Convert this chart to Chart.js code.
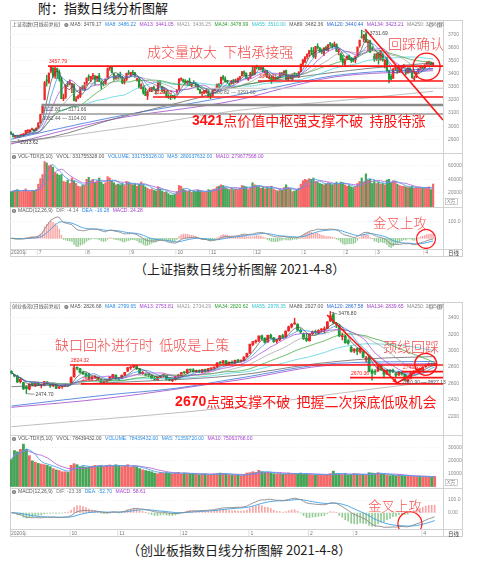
<!DOCTYPE html>
<html>
<head>
<meta charset="utf-8">
<script src="https://cdn.jsdelivr.net/npm/chart.js@4.4.1/dist/chart.umd.min.js"></script>
<style>
html, body { margin: 0; padding: 0; background: #fff; }
body { width: 479px; height: 582px; position: relative; overflow: hidden; font-family: "Noto Sans CJK SC", sans-serif; }
.frame { position: absolute; left: 10px; width: 453px; border: 1px solid #cfcfcf; box-sizing: border-box; }
canvas { position: absolute; left: 10px; }
.cap { position: absolute; font-size: 13px; color: #222; white-space: nowrap; line-height: 16px; }
</style>
</head>
<body>
<div class="cap" style="left:38px;top:0px;color:#111">附：指数日线分析图解</div>

<div class="frame" style="top:20px;height:237px"></div>
<canvas id="p1" width="453" height="132" style="top:21px"></canvas>
<canvas id="v1" width="453" height="54" style="top:153px"></canvas>
<canvas id="m1" width="453" height="49" style="top:207px"></canvas>
<div class="cap" style="left:134px;top:261px">（上证指数日线分析图解 2021-4-8）</div>

<div class="frame" style="top:302px;height:235px"></div>
<canvas id="p2" width="453" height="132" style="top:303px"></canvas>
<canvas id="v2" width="453" height="53" style="top:435px"></canvas>
<canvas id="m2" width="453" height="49" style="top:488px"></canvas>
<div class="cap" style="left:127px;top:542px">（创业板指数日线分析图解 2021-4-8）</div>

<script>
// ---- 上证指数 日线 2020-06-10 ~ 2021-04-08 ----
const shOpen = [2953,2938,2916,2925,2917,2930,2932,2942,2963,2958,2974,2974,2967,
  2991,3026,3096,3205,3349,3333,3418,3443,3381,3439,3411,3360,3209,3222,3325,3321,3295,3316,3197,3216,3227,3301,3286,
  3321,3374,3360,3381,3379,3360,3385,3334,3329,3327,3369,3441,3450,3395,3366,3388,3390,3372,3334,3355,3407,
  3395,3408,3406,3353,3352,3287,3297,3265,3229,3276,3275,3297,3276,3269,3334,3301,3270,3267,3229,3220,3228,3226,
  3262,3276,3359,3355,3345,3330,3345,3311,3331,3321,3313,3277,3253,3253,3259,3265,
  3236,3233,3272,3294,3320,3325,3378,3361,3339,3314,3323,3353,3339,3339,3366,3385,3415,3404,3356,3372,3424,
  3395,3454,3447,3438,3446,3410,3414,3364,3372,3353,3360,3368,3373,3403,3393,3424,3358,3385,3356,3398,3399,3375,3417,
  3474,3492,3530,3552,3577,3576,3528,3609,3597,3570,3555,3602,3580,3628,3618,3614,3622,3568,3552,3514,
  3472,3517,3537,3518,3510,3505,3540,3613,3684,3659,3705,3636,3648,3592,3533,
  3515,3561,3506,3546,3468,3508,3425,3380,3365,3442,3447,3420,3445,3455,3432,3409,3443,3409,3358,3375,3421,3435,3457,
  3445,3471,3481,3483,3468];
const shHigh = [2959,2945,2926,2932,2933,2940,2946,2969,2973,2972,2985,2977,2988,
  3025,3092,3153,3342,3387,3407,3457.79,3447,3446,3443,3428,3375,3244,3315,3341,3354,3327,3322,3226,3239,3294,3309,3334,
  3367,3392,3379,3402,3388,3381,3403,3345,3341,3360,3444,3456,3451,3404,3386,3398,3413,3379,3357,3404,3425,
  3411,3425,3410,3369,3365,3322,3302,3287,3267,3293,3295,3305,3285,3339,3343,3305,3286,3268,3241,3236,3235,3239,
  3280,3362,3367,3359,3355,3345,3366,3330,3347,3332,3318,3280,3262,3271,3283,3276,
  3246,3275,3287,3320,3324,3374,3387,3375,3349,3329,3347,3356,3359,3368,3378,3417,3421,3407,3370,3411,3456,
  3451,3465,3453,3449,3456,3426,3425,3389,3380,3377,3370,3375,3408,3411,3421,3428,3385,3391,3397,3407,3403,3414,3474,
  3511,3528,3550,3576,3599,3600,3608,3628,3598,3590,3597,3611,3621,3639,3630,3642,3628,3588,3554,3539,
  3515,3535,3542,3524,3520,3536,3604,3656,3731.69,3697,3712,3653,3655,3605,3552,
  3552,3563,3577,3552,3508,3526,3428,3396,3442,3472,3449,3448,3457,3470,3433,3444,3444,3418,3381,3418,3440,3458,3458,
  3467,3490,3495,3491,3483];
const shLow = [2937,2917,2915,2913.62,2915,2925,2924,2937,2951,2950,2971,2954,2965,
  2983,3023,3087,3200,3306,3326,3406,3371,3363,3361,3343,3209,3194,3211,3302,3315,3256,3193,3187,3208,3218,3277,3274,
  3311,3346,3337,3358,3317,3340,3340,3284,3308,3318,3369,3425,3406,3349,3356,3358,3365,3323,3321,3347,3395,
  3382,3393,3372,3342,3292,3283,3243,3233,3203,3264,3263,3279,3244,3267,3306,3259,3252,3221,3211,3202,3214,3207,
  3250,3274,3344,3333,3320,3315,3310,3299,3322,3297,3276,3249,3232,3248,3251,3224,
  3209,3228,3268,3293,3293,3321,3350,3336,3326,3305,3320,3320,3333,3332,3355,3381,3383,3362,3348,3364,3386,
  3391,3435,3430,3427,3409,3389,3371,3359,3325,3344,3350,3359,3369,3385,3390,3353,3344,3359,3347,3378,3378,3371,3416,
  3457,3484,3513,3532,3544,3522,3514,3588,3563,3550,3538,3576,3571,3608,3596,3605,3569,3543,3502,3468,
  3457,3507,3506,3485,3490,3482,3536,3602,3670,3641,3637,3571,3562,3576,3494,
  3500,3472,3502,3495,3443,3419,3329,3350,3363,3424,3404,3408,3411,3444,3392,3401,3406,3366,3349,3370,3405,3428,3436,
  3440,3470,3471,3464,3458];
const shClose = [2943,2921,2919,2918,2931,2935,2939,2968,2965,2970,2980,2962,2985,
  3025,3090,3152,3332,3345,3403,3450,3383,3443,3415,3361,3210,3214,3314,3321,3333,3325,3197,3206,3228,3294,3287,3310,
  3367,3371,3377,3386,3354,3379,3340,3320,3320,3360,3438,3451,3408,3364,3381,3385,3373,3330,3350,3403,3396,
  3410,3404,3384,3355,3292,3316,3255,3234,3260,3278,3295,3283,3270,3338,3316,3274,3279,3223,3219,3217,3224,3218,
  3272,3359,3359,3340,3332,3336,3312,3328,3325,3312,3278,3251,3254,3270,3273,3225,
  3225,3272,3277,3320,3312,3373,3360,3342,3338,3310,3346,3339,3347,3363,3378,3414,3402,3362,3369,3408,3392,
  3451,3449,3443,3445,3416,3410,3371,3373,3347,3369,3367,3366,3404,3395,3421,3357,3383,3364,3397,3397,3379,3414,3473,
  3503,3528,3550,3576,3570,3531,3608,3598,3566,3566,3596,3584,3621,3622,3607,3625,3570,3573,3506,3483,
  3505,3533,3518,3501,3496,3532,3603,3655,3675,3696,3642,3636,3564,3585,3509,
  3551,3508,3576,3503,3502,3421,3360,3357,3436,3454,3419,3446,3446,3464,3405,3443,3414,3367,3363,3418,3435,3457,3442,
  3467,3484,3483,3479,3482];
// 成交量（万手）
const shVol = [22000,23000,24000,25000,23000,22000,24000,26000,23000,22000,24000,23000,25000,
  33000,41000,47000,66000,64000,60000,61000,58000,50000,48000,46000,47000,37000,36000,39000,34000,42000,38000,34000,30000,29000,31000,32000,
  40000,43000,38000,40000,36000,38000,42000,36000,33000,35000,44000,42000,38000,35000,32000,33000,32000,34000,31000,37000,36000,
  34000,32000,33000,30000,33000,36000,32000,29000,27000,25000,26000,24000,23000,29000,26000,23000,21000,22000,19000,17000,17000,18000,
  22000,31000,30000,26000,24000,22000,24000,21000,23000,22000,24000,23000,22000,21000,22000,25000,
  24000,25000,26000,29000,30000,32000,31000,28000,26000,25000,27000,25000,26000,25000,27000,31000,30000,29000,25000,28000,35000,
  32000,31000,29000,27000,28000,26000,29000,27000,30000,26000,24000,23000,25000,24000,28000,32000,28000,26000,22000,23000,25000,27000,33000,
  38000,40000,39000,41000,40000,42000,37000,36000,34000,33000,32000,33000,35000,34000,32000,34000,36000,33000,36000,35000,
  32000,30000,31000,29000,28000,30000,34000,37000,42000,36000,48000,39000,40000,34000,38000,
  34000,36000,33000,34000,32000,39000,40000,35000,38000,37000,33000,31000,30000,30000,29000,28000,28000,30000,27000,28000,28000,28000,27000,
  27000,28000,29000,25000,33176];
// 长周期均线读数 [K线序号, 点位]
const shMa89 = [[0,2880],[20,2920],[50,3060],[90,3220],[107,3300],[138,3377],[170,3440],[201,3482]];
const shMa120 = [[0,2900],[46,3060],[107,3235],[130,3310],[154,3385],[201,3440]];
const shMa134 = [[0,2864],[46,3045],[108,3200],[130,3290],[154,3375],[201,3423]];
const shMa250 = [[0,2870],[60,3000],[108,3120],[160,3200],[201,3266]];
const shMonths = [[13,'7'],[36,'8'],[57,'9'],[79,'10'],[95,'11'],[116,'12'],[139,'1'],[159,'2'],[174,'3'],[197,'4']];
const shPriceTicks = [2900,3000,3100,3200,3300,3400,3500,3600,3700];
const shVolTicks = [20000,40000,60000];
const shMacdTicks = [100];

// ---- 创业板指 日线 2020-09-03 ~ 2021-04-08 ----
const cyOpen = [2745,2695,2688,2622,2610,2555,2530,2605,2580,2612,2570,2575,2618,2585,2572,2580,2545,2560,2570,2582,
  2600,2680,2788,2780,2735,2718,2700,2660,2680,2675,2648,2612,2625,2640,2672,2700,
  2660,2662,2705,2750,2790,2800,2822,2775,2722,2710,2705,2700,2665,2645,2678,2700,2695,2652,2635,2648,2690,
  2692,2735,2728,2765,2765,2745,2752,2735,2770,2750,2778,2788,2800,2852,2848,2875,2832,2860,2845,2885,2870,2880,2925,
  2970,3075,3108,3120,3180,3150,3105,3188,3155,3112,3130,3182,3168,3242,3290,3325,3320,3248,3200,3150,
  3120,3205,3235,3218,3250,3255,3270,3360,3440,3330,3310,3170,3180,3120,3040,
  2995,3025,2985,2985,2890,2920,2755,2740,2750,2820,2765,2715,2762,2755,2720,2705,2738,2710,2630,2660,2735,2745,2768,
  2762,2805,2822,2842,2822];
const cyHigh = [2755,2712,2700,2660,2616,2572,2595,2615,2620,2618,2590,2625,2622,2592,2595,2582,2565,2575,2592,2590,
  2680,2824.32,2800,2785,2750,2730,2725,2685,2690,2680,2652,2628,2648,2682,2712,2705,
  2668,2702,2735,2795,2805,2826,2822,2782,2745,2722,2718,2706,2680,2680,2700,2712,2698,2665,2652,2685,2712,
  2735,2742,2775,2770,2780,2762,2765,2772,2775,2785,2790,2800,2855,2870,2880,2880,2862,2875,2885,2895,2888,2925,2970,
  3080,3112,3130,3180,3190,3160,3190,3200,3162,3140,3185,3200,3240,3300,3330,3395,3330,3268,3215,3210,
  3205,3240,3250,3255,3270,3290,3355,3476.8,3460,3345,3315,3215,3190,3135,3055,
  3025,3030,3035,2995,2930,2935,2775,2770,2822,2830,2770,2770,2770,2775,2728,2745,2745,2712,2660,2735,2755,2775,2775,
  2805,2830,2850,2848,2850];
const cyLow = [2715,2680,2612,2605,2525,2474.7,2520,2570,2560,2575,2545,2570,2590,2550,2560,2535,2535,2540,2560,2565,
  2598,2676,2765,2728,2705,2680,2655,2650,2665,2645,2610,2600,2615,2636,2665,2650,
  2635,2655,2695,2745,2770,2790,2768,2715,2710,2690,2680,2655,2640,2640,2670,2680,2640,2630,2620,2640,2670,
  2688,2715,2722,2740,2735,2730,2732,2728,2735,2745,2765,2775,2798,2835,2840,2820,2822,2840,2840,2855,2858,2875,2920,
  2965,3060,3090,3110,3130,3090,3100,3150,3100,3090,3120,3155,3160,3235,3275,3320,3240,3210,3135,3110,
  3115,3195,3200,3205,3225,3220,3265,3355,3330,3280,3170,3130,3090,3075,2980,
  2975,2950,2970,2915,2860,2740,2640,2705,2745,2760,2680,2705,2700,2730,2680,2695,2700,2635,2610.9,2655,2720,2735,2740,
  2755,2795,2810,2815,2815];
const cyClose = [2727,2690,2616,2648,2533,2536,2593,2582,2610,2578,2572,2620,2600,2570,2590,2540,2555,2562,2580,2572,
  2670,2790,2786,2733,2720,2690,2660,2676,2680,2652,2616,2623,2642,2679,2708,2656,
  2653,2700,2733,2793,2791,2820,2780,2721,2733,2700,2702,2663,2650,2674,2697,2700,2650,2638,2645,2679,2690,
  2732,2730,2770,2763,2742,2750,2738,2768,2748,2780,2785,2790,2850,2845,2875,2830,2858,2848,2882,2870,2880,2922,2966,
  3078,3109,3118,3178,3147,3100,3185,3160,3110,3128,3180,3165,3238,3290,3320,3330,3250,3228,3146,3126,
  3200,3230,3220,3245,3250,3262,3350,3425,3340,3320,3180,3175,3095,3090,2990,
  3017,2990,3030,2920,2910,2745,2720,2736,2817,2770,2710,2760,2740,2750,2700,2740,2714,2640,2650,2730,2740,2765,2754,
  2800,2820,2840,2830,2843];
const cyVol = [21000,28000,27000,29000,33000,29000,24000,20000,19000,18000,17500,17000,16500,15500,14000,13000,12500,11500,11500,11000,
  16500,17800,17000,15200,15500,15000,15200,15800,16500,16000,16500,15600,16500,16800,16000,17000,
  16000,15500,16000,17000,15000,16000,15500,14000,13000,12500,12000,11500,10500,10000,11000,10500,10800,10500,10000,10500,11000,
  9800,10500,10000,9500,10000,9800,9200,9500,9800,9200,9500,9800,10000,10500,10200,9500,9200,8800,8800,9000,8500,9000,10500,
  10800,11500,11000,12600,11500,11000,11200,10500,10000,9800,10000,9500,9800,10500,10000,10200,9800,10500,9500,9800,
  9500,9200,9000,9500,9200,8800,9500,10000,12000,9800,9500,9200,10000,8800,9500,
  10000,9500,9200,9500,9000,10800,10500,10000,10800,9800,9500,9000,8500,8800,8500,9000,8800,8000,8200,8000,7800,8000,7800,
  7500,7800,7600,7200,7844];
const cyMa89 = [[0,2560],[40,2620],[76,2700],[100,2830],[120,2900],[142,2927]];
const cyMa120 = [[0,2324],[32,2459],[55,2540],[76,2662],[109,2845],[142,2868]];
const cyMa134 = [[0,2308],[32,2418],[76,2641],[109,2825],[142,2840]];
const cyMa250 = [[0,2072],[76,2316],[110,2480],[142,2626]];
const cyMonths = [[20,'10'],[36,'11'],[57,'12'],[80,'1'],[100,'2'],[115,'3'],[138,'4']];
const cyPriceTicks = [2200,2400,2600,2800,3000,3200,3400];
const cyVolTicks = [10000,20000,30000];
const cyMacdTicks = [0,100];

// ---- 样式 ----
const UP = '#ee2626', DOWN = '#1d9a38';
const VOL_UP = 'rgba(242,78,78,0.85)', VOL_DOWN = 'rgba(38,148,58,0.85)';
const RED = '#ff1414', SOFT_RED = '#f24848';
const SMALL = '5px "Liberation Sans", "Noto Sans CJK SC", sans-serif';
const CJK = '"Noto Sans CJK SC", sans-serif';
const THIN = '300 14px ' + CJK;
const MA_N = [5, 8, 13, 21, 34, 55];
const MA_COL = ['#4a4a4a', '#2c8ce2', '#a23fd0', '#9c9c9c', '#2e9e2e', '#3ccfd6'];
const LONG_COL = ['#5e5e5e', '#2d6bd6', '#9a3fc6', '#a8a8a8'];

function sma(arr, n) {
  return arr.map((_, i) => {
    const s = Math.max(0, i - n + 1);
    let sum = 0;
    for (let j = s; j <= i; j++) sum += arr[j];
    return sum / (i - s + 1);
  });
}
function ema(arr, n) {
  const k = 2 / (n + 1), out = [];
  arr.forEach((v, i) => out.push(i ? out[i - 1] + k * (v - out[i - 1]) : v));
  return out;
}
const pts = arr => arr.map((y, i) => ({ x: i, y }));
const line = (data, color, w) => ({ type: 'line', data, borderColor: color, borderWidth: w, pointRadius: 0, fill: false, tension: 0, order: 0 });
const curve = (pairs, color, w) => Object.assign(line(pairs.map(p => ({ x: p[0], y: p[1] })), color, w), { cubicInterpolationMode: 'monotone' });

function drawHeader(ctx, head, y) {
  ctx.font = SMALL; ctx.textBaseline = 'middle'; ctx.textAlign = 'left';
  let x = 2;
  if (head.name) {
    ctx.fillStyle = '#555'; ctx.fillText(head.name, x, y);
    x += ctx.measureText(head.name).width + 4;
  }
  ctx.fillStyle = '#777'; ctx.beginPath(); ctx.arc(x + 2, y, 2.1, 0, Math.PI * 2); ctx.fill();
  ctx.fillStyle = '#fff'; ctx.fillRect(x + 1, y - 0.3, 2, 0.6);
  x += 6;
  head.segs.forEach(s => {
    ctx.fillStyle = s[1]; ctx.fillText(s[0], x, y);
    x += ctx.measureText(s[0]).width + 3.5;
  });
  if (head.icons) {
    ctx.strokeStyle = '#888'; ctx.lineWidth = 0.7;
    ctx.beginPath(); ctx.arc(421, y, 2, 0, Math.PI * 2); ctx.stroke();
    ctx.strokeRect(427.5, y - 2, 4, 4);
    ctx.beginPath(); ctx.moveTo(429.5, y - 2); ctx.lineTo(429.5, y + 2); ctx.stroke();
  }
}

function arrowHead(ctx, x1, y1, x2, y2, size) {
  const a = Math.atan2(y2 - y1, x2 - x1);
  ctx.beginPath();
  ctx.moveTo(x2, y2);
  ctx.lineTo(x2 - size * Math.cos(a - 0.45), y2 - size * Math.sin(a - 0.45));
  ctx.lineTo(x2 - size * Math.cos(a + 0.45), y2 - size * Math.sin(a + 0.45));
  ctx.closePath(); ctx.fill();
}

function drawAnnot(ctx, ca, X, Y, an) {
  ctx.save();
  ctx.beginPath(); ctx.rect(ca.left, ca.top, ca.right - ca.left, ca.bottom - ca.top); ctx.clip();
  (an.hlines || []).forEach(h => {
    ctx.strokeStyle = h.color; ctx.lineWidth = h.w;
    ctx.beginPath(); ctx.moveTo(X(h.from), Y(h.v)); ctx.lineTo(ca.right, Y(h.v)); ctx.stroke();
  });
  (an.segs || []).forEach(s => {
    ctx.strokeStyle = s.color; ctx.fillStyle = s.color; ctx.lineWidth = s.w;
    const x1 = X(s.x1), y1 = Y(s.v1), x2 = X(s.x2), y2 = Y(s.v2);
    ctx.beginPath(); ctx.moveTo(x1, y1); ctx.lineTo(x2, y2); ctx.stroke();
    if (s.arrow) arrowHead(ctx, x1, y1, x2, y2, 5);
  });
  (an.circles || []).forEach(c => {
    ctx.strokeStyle = c.color; ctx.lineWidth = c.w;
    ctx.beginPath(); ctx.arc(X(c.x), Y(c.v), c.r, 0, Math.PI * 2); ctx.stroke();
  });
  ctx.restore();
  ctx.save();
  ctx.textAlign = 'left';
  (an.hlines || []).forEach(h => {
    if (!h.label) return;
    ctx.font = SMALL; ctx.fillStyle = h.lc;
    if (h.pos === 'below') { ctx.textBaseline = 'top'; ctx.fillText(h.label, X(h.from) + 1, Y(h.v) + 2); }
    else { ctx.textBaseline = 'bottom'; ctx.fillText(h.label, X(h.from) + 1, Y(h.v) - 1.5); }
  });
  (an.marks || []).forEach(m => {
    const px = X(m.x), py = Y(m.v);
    ctx.strokeStyle = m.color; ctx.lineWidth = 0.6;
    ctx.beginPath(); ctx.moveTo(px + 1, py + m.ty * 0.3); ctx.lineTo(px + m.tx - 1, py + m.ty); ctx.stroke();
    ctx.font = SMALL; ctx.fillStyle = m.color; ctx.textBaseline = 'middle';
    ctx.fillText(m.text, px + m.tx, py + m.ty);
  });
  (an.texts || []).forEach(t => {
    let x = X(t.x);
    ctx.textBaseline = 'middle';
    t.parts.forEach(p => {
      ctx.font = p[1]; ctx.fillStyle = p[2];
      ctx.fillText(p[0], x, Y(t.v));
      x += ctx.measureText(p[0]).width;
    });
  });
  ctx.restore();
}

function panelPlugin(p) {
  return {
    id: 'panel_' + p.key,
    afterDraw(chart) {
      const ctx = chart.ctx, ca = chart.chartArea;
      const X = v => chart.scales.x.getPixelForValue(v);
      const Y = v => chart.scales.y.getPixelForValue(v);
      const W = chart.width, H = chart.height;
      ctx.save();
      ctx.strokeStyle = '#d2d2d2'; ctx.lineWidth = 1;
      ctx.beginPath();
      ctx.moveTo(ca.right + 0.5, 0); ctx.lineTo(ca.right + 0.5, H);
      if (p.topLine) { ctx.moveTo(0, 0.5); ctx.lineTo(W, 0.5); }
      if (p.months) { ctx.moveTo(0, ca.bottom + 0.5); ctx.lineTo(W, ca.bottom + 0.5); }
      ctx.stroke();
      ctx.font = SMALL; ctx.fillStyle = '#8a8a8a'; ctx.textBaseline = 'middle'; ctx.textAlign = 'left';
      p.ticks.forEach(v => ctx.fillText(p.fmt(v), ca.right + 5, Y(v)));
      drawHeader(ctx, p.head, 4);
      if (p.unit) {
        ctx.strokeStyle = '#aaa'; ctx.lineWidth = 0.6;
        ctx.strokeRect(ca.right + 2.5, H - 8.5, 12, 6);
        ctx.fillStyle = '#888'; ctx.fillText('X万', ca.right + 4, H - 5.5);
      }
      if (p.months) {
        const my = ca.bottom + (H - ca.bottom) / 2 + 0.5;
        ctx.fillStyle = '#777';
        ctx.fillText('2020年', ca.left + 1, my);
        ctx.strokeStyle = '#c8c8c8'; ctx.lineWidth = 0.6;
        p.months.forEach(m => {
          const x = X(m[0]) - 1;
          ctx.beginPath(); ctx.moveTo(x, ca.bottom + 1); ctx.lineTo(x, H - 1); ctx.stroke();
          ctx.fillText(m[1], x + 1.5, my);
        });
        ctx.font = '5.5px ' + CJK; ctx.fillStyle = '#444';
        ctx.fillText('日线', ca.right + 5, my);
      }
      if (p.annot) drawAnnot(ctx, ca, X, Y, p.annot);
      ctx.restore();
    }
  };
}

function yScale(min, max, ticks) {
  return {
    position: 'right', min, max,
    afterFit: s => { s.width = 20; },
    afterBuildTicks: s => { s.ticks = ticks.map(v => ({ value: v })); },
    ticks: { display: false },
    grid: { color: '#ebebeb', drawTicks: false, lineWidth: 0.8 },
    border: { display: false, dash: [1, 2] }
  };
}
function chartOpts(xr, ys, padBottom) {
  return {
    responsive: false, animation: false, events: [],
    layout: { padding: { left: 0, right: 0, top: 0, bottom: padBottom || 0 } },
    plugins: { legend: { display: false }, tooltip: { enabled: false } },
    scales: { x: { type: 'linear', min: xr[0], max: xr[1], display: false, offset: false }, y: ys }
  };
}

function buildSet(ids, d, c) {
  const up = d.close.map((v, i) => v >= d.open[i]);
  const xr = [c.xMin, c.xMax];
  // 价格
  const priceSets = MA_N.map((n, k) => line(pts(sma(d.close, n)), MA_COL[k], 0.7));
  [d.ma89, d.ma120, d.ma134, d.ma250].forEach((m, k) => priceSets.push(curve(m, LONG_COL[k], 0.75)));
  priceSets.push({
    data: d.open.map((o, i) => ({ x: i, y: [o, d.close[i]] })),
    backgroundColor: up.map(u => u ? UP : DOWN),
    barThickness: c.bodyW, minBarLength: 1, grouped: false, order: 1
  });
  priceSets.push({
    data: d.low.map((l, i) => ({ x: i, y: [l, d.high[i]] })),
    backgroundColor: up.map(u => u ? UP : DOWN),
    barThickness: c.wickW, grouped: false, order: 2
  });
  new Chart(document.getElementById(ids[0]), {
    type: 'bar', data: { datasets: priceSets },
    options: chartOpts(xr, yScale(c.price[0], c.price[1], d.priceTicks)),
    plugins: [panelPlugin({ key: ids[0], ticks: d.priceTicks, fmt: v => String(v), head: d.priceHead, annot: c.priceAnnot })]
  });
  // 成交量
  new Chart(document.getElementById(ids[1]), {
    type: 'bar',
    data: { datasets: [
      line(pts(sma(d.vol, 5)), '#4aa3ea', 0.9),
      line(pts(sma(d.vol, 10)), '#b46ad6', 0.9),
      { data: pts(d.vol), backgroundColor: up.map(u => u ? VOL_UP : VOL_DOWN), barThickness: c.volW, grouped: false, order: 1 }
    ] },
    options: chartOpts(xr, yScale(c.vol[0], c.vol[1], d.volTicks)),
    plugins: [panelPlugin({ key: ids[1], ticks: d.volTicks, fmt: v => String(v), head: d.volHead, topLine: true, unit: true })]
  });
  // MACD(12,26,9)
  const e12 = ema(d.close, 12), e26 = ema(d.close, 26);
  const dif = e12.map((v, i) => v - e26[i]);
  const dea = ema(dif, 9);
  const hist = dif.map((v, i) => 2 * (v - dea[i]));
  new Chart(document.getElementById(ids[2]), {
    type: 'bar',
    data: { datasets: [
      line(pts(dif), '#8a8a8a', 0.9),
      line(pts(dea), '#3d9fe8', 0.9),
      { data: pts(hist), backgroundColor: hist.map(h => h >= 0 ? 'rgba(240,90,90,0.55)' : 'rgba(60,160,60,0.55)'), barThickness: c.histW, grouped: false, order: 1 }
    ] },
    options: chartOpts(xr, yScale(c.macd[0], c.macd[1], d.macdTicks), c.stripH),
    plugins: [panelPlugin({ key: ids[2], ticks: d.macdTicks, fmt: v => v === 0 ? '0.00' : v.toFixed(1), head: d.macdHead, topLine: true, months: d.months, annot: c.macdAnnot })]
  });
}

buildSet(['p1', 'v1', 'm1'], {
  open: shOpen, high: shHigh, low: shLow, close: shClose, vol: shVol,
  ma89: shMa89, ma120: shMa120, ma134: shMa134, ma250: shMa250,
  months: shMonths, priceTicks: shPriceTicks, volTicks: shVolTicks, macdTicks: shMacdTicks,
  priceHead: { name: '上证指数(日线前复权)', icons: true, segs: [
    ['MA5: 3479.17', '#555'], ['MA8: 3486.22', '#2c8ce2'], ['MA13: 3441.05', '#a23fd0'], ['MA21: 3436.25', '#999'],
    ['MA34: 3478.99', '#2e9e2e'], ['MA55: 3510.00', '#36c3d3'], ['MA89: 3482.36', '#555'], ['MA120: 3440.44', '#2d6bd6'],
    ['MA134: 3423.21', '#9a3fc6'], ['MA250: 3266.66', '#888']] },
  volHead: { segs: [['VOL-TDX(5,10)', '#555'], ['VVOL: 331755328.00', '#555'], ['VOLUME: 331755328.00', '#2c8ce2'],
    ['MA5: 280037632.00', '#2c8ce2'], ['MA10: 279677568.00', '#a23fd0']] },
  macdHead: { segs: [['MACD(12,26,9)', '#555'], ['DIF: -4.14', '#777'], ['DEA: -16.28', '#2c8ce2'], ['MACD: 24.28', '#a23fd0']] }
}, {
  xMin: -0.48, xMax: 205.7, bodyW: 1.5, wickW: 0.8, volW: 1.5, histW: 0.8, stripH: 7,
  price: [2795.6, 3801.3], vol: [-513, 78597], macd: [-64.5, 188.6],
  priceAnnot: {
    hlines: [
      { v: 3457.79, from: 17.6, color: RED, w: 1.6, label: '3457.79', lc: RED },
      { v: 3344, from: 117.6, color: RED, w: 1.6, label: '3340.01', lc: RED },
      { v: 3289, from: 95, color: '#c6c6c6', w: 1, label: '3280.82 — 3291.60', pos: 'below', lc: '#666' },
      { v: 3222.53, from: 67.6, color: RED, w: 1.6, label: '3222.53', lc: RED },
      { v: 3161, from: 14.5, color: '#8a8a8a', w: 2.6, label: '3122.81 — 3171.66', pos: 'below', lc: '#555' },
      { v: 3093, from: 14.5, color: '#9a9a9a', w: 1.6, label: '3082.44 — 3104.00', pos: 'below', lc: '#555' }
    ],
    segs: [{ x1: 168.6, v1: 3738, x2: 205.7, v2: 3047, color: RED, w: 1.6 }],
    circles: [{ x: 197.9, v: 3453, r: 13.5, color: RED, w: 1.3 }],
    marks: [
      { x: 167, v: 3731.69, text: '3731.69', tx: 8, ty: 3, color: '#444' },
      { x: 3, v: 2913.62, text: '2913.62', tx: 3, ty: 5.5, color: '#444' }
    ],
    texts: [
      { x: 64.8, v: 3567, parts: [['成交量放大  下档承接强', THIN, SOFT_RED]] },
      { x: 179.5, v: 3631, parts: [['回踩确认', THIN, SOFT_RED]] },
      { x: 86.2, v: 3042, parts: [['3421', 'bold 14px "Liberation Sans"', RED], ['点价值中枢强支撑不破  持股待涨', '14px ' + CJK, RED]] }
    ]
  },
  macdAnnot: {
    circles: [{ x: 197.6, v: -4, r: 9.5, color: RED, w: 1.2 }],
    texts: [{ x: 172.4, v: 90, parts: [['金叉上攻', '300 13.5px ' + CJK, '#f55555']] }]
  }
});

buildSet(['p2', 'v2', 'm2'], {
  open: cyOpen, high: cyHigh, low: cyLow, close: cyClose, vol: cyVol,
  ma89: cyMa89, ma120: cyMa120, ma134: cyMa134, ma250: cyMa250,
  months: cyMonths, priceTicks: cyPriceTicks, volTicks: cyVolTicks, macdTicks: cyMacdTicks,
  priceHead: { name: '创业板指(日线前复权)', icons: true, segs: [
    ['MA5: 2826.68', '#555'], ['MA8: 2799.65', '#2c8ce2'], ['MA13: 2753.81', '#a23fd0'], ['MA21: 2734.29', '#999'],
    ['MA34: 2820.62', '#2e9e2e'], ['MA55: 2978.35', '#36c3d3'], ['MA89: 2927.00', '#555'], ['MA120: 2867.58', '#2d6bd6'],
    ['MA134: 2839.65', '#9a3fc6'], ['MA250: 2625.87', '#888']] },
  volHead: { segs: [['VOL-TDX(5,10)', '#555'], ['VVOL: 78439432.00', '#555'], ['VOLUME: 78439432.00', '#2c8ce2'],
    ['MA5: 71359720.00', '#2c8ce2'], ['MA10: 75063768.00', '#a23fd0']] },
  macdHead: { segs: [['MACD(12,26,9)', '#555'], ['DIF: -23.38', '#777'], ['DEA: -52.70', '#2c8ce2'], ['MACD: 58.61', '#a23fd0']] }
}, {
  xMin: -0.5, xMax: 144.8, bodyW: 2.2, wickW: 0.8, volW: 2.2, histW: 1, stripH: 8,
  price: [1970.7, 3580.5], vol: [-1128, 40106], macd: [-128.3, 194.5],
  priceAnnot: {
    hlines: [
      { v: 2824.32, from: 19.6, color: RED, w: 1.6, label: '2824.32', lc: RED },
      { v: 2595, from: 23.3, color: RED, w: 1.8, label: '2593.57', lc: RED },
      { v: 2670.36, from: 113.6, color: RED, w: 1.6, label: '2670.36', lc: RED },
      { v: 2743.92, from: 131, color: RED, w: 1.6, label: '2743.92', lc: RED }
    ],
    segs: [
      { x1: 105.9, v1: 3434, x2: 129.4, v2: 2605, color: RED, w: 1.6, arrow: true },
      { x1: 129.4, v1: 2605, x2: 137.7, v2: 2784, color: RED, w: 1.6, arrow: true }
    ],
    circles: [{ x: 139, v: 2833, r: 11, color: RED, w: 1.3 }],
    marks: [
      { x: 107, v: 3476.8, text: '3476.80', tx: 8, ty: 2.5, color: '#444' },
      { x: 5, v: 2474.7, text: '2474.70', tx: 9, ty: 0.5, color: '#444' }
    ],
    texts: [
      { x: 131, v: 2612, parts: [['2610.90 — 2627.13', SMALL, '#555']] },
      { x: 14.6, v: 3068, parts: [['缺口回补进行时  低吸是上策', THIN, SOFT_RED]] },
      { x: 124.7, v: 3044, parts: [['颈线回踩', THIN, SOFT_RED]] },
      { x: 54.9, v: 2377, parts: [['2670', 'bold 14px "Liberation Sans"', RED], ['点强支撑不破  把握二次探底低吸机会', '14px ' + CJK, RED]] }
    ]
  },
  macdAnnot: {
    circles: [{ x: 133.7, v: -87, r: 12, color: RED, w: 1.2 }],
    texts: [{ x: 119.6, v: 53, parts: [['金叉上攻', '300 13.5px ' + CJK, '#f55555']] }]
  }
});
</script>
</body>
</html>
